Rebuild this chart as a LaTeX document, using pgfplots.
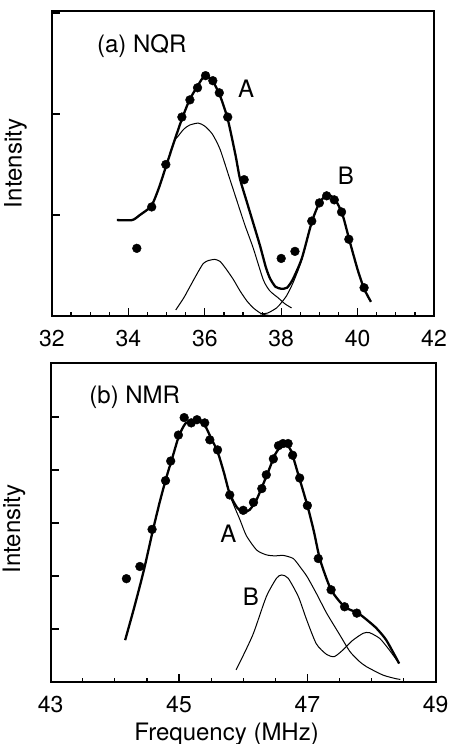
\documentclass[border=0pt]{standalone}
\usepackage{fontspec}
\setmainfont{TeX Gyre Heros}
\usepackage{pgfplots}
\pgfplotsset{compat=1.18}

\pgfplotsset{
  spec/.style={
    scale only axis,
    axis line style={line width=2pt},
    tick pos=left,
    tick align=inside,
    ytick={1,2,3,4,5},
    yticklabels={},
    minor x tick num=3,
    major tick length=8pt,
    minor tick length=4pt,
    every tick/.style={black, line width=1.2pt},
    ymin=0,
    /pgf/number format/assume math mode=true,
    tick label style={font=\fontsize{23}{26}\selectfont},
    xticklabel style={inner sep=0pt, yshift=-14pt},
    label style={font=\fontsize{24}{28}\selectfont},
    ylabel style={inner sep=0pt, anchor=south},
  },
  fit/.style={black, line width=2.3pt, smooth, tension=0.4},
  comp/.style={black, line width=1pt, smooth, tension=0.4},
  pts/.style={only marks, mark=*, mark size=4.4pt, black},
}

\begin{document}
\begin{tikzpicture}
\useasboundingbox (0,0) rectangle (451pt,-744pt);

% (a) NQR
\begin{axis}[spec,
  at={(52pt,-316pt)}, anchor=south west,
  width=382pt, height=305pt,
  xmin=32, xmax=42, ymax=3.02,
  xtick={32,34,36,38,40,42},
  ylabel={Intensity},
  ylabel style={at={(axis description cs:-0.065,0.5)}},
]
\addplot[fit] coordinates {(33.70,0.95)(34.10,0.95)(34.30,1.00)(34.60,1.09)(34.80,1.27)(35.00,1.50)(35.20,1.73)(35.40,1.95)(35.60,2.14)(35.80,2.27)(36.00,2.38)(36.20,2.33)(36.40,2.18)(36.60,1.95)(36.80,1.60)(36.92,1.36)(37.10,1.13)(37.30,0.88)(37.45,0.69)(37.60,0.48)(37.71,0.37)(37.85,0.29)(38.00,0.27)(38.15,0.28)(38.30,0.36)(38.54,0.57)(38.80,0.93)(39.00,1.12)(39.20,1.20)(39.40,1.16)(39.60,1.01)(39.80,0.73)(40.00,0.46)(40.17,0.27)(40.35,0.14)};
\addplot[comp] coordinates {(35.00,1.50)(35.20,1.73)(35.30,1.78)(35.45,1.85)(35.60,1.89)(35.83,1.91)(36.00,1.88)(36.20,1.80)(36.40,1.65)(36.66,1.35)(36.85,1.13)(37.05,0.90)(37.27,0.67)(37.53,0.36)(37.70,0.25)(37.92,0.18)(38.10,0.12)(38.27,0.08)};
\addplot[comp] coordinates {(35.24,0.06)(35.45,0.18)(35.61,0.29)(35.80,0.42)(35.96,0.52)(36.10,0.55)(36.27,0.56)(36.40,0.54)(36.55,0.47)(36.75,0.36)(36.92,0.25)(37.10,0.15)(37.27,0.08)(37.45,0.03)(37.60,0.01)(37.80,0.00)};
\addplot[comp] coordinates {(37.45,0.02)(37.65,0.03)(37.88,0.08)(38.00,0.13)(38.14,0.20)(38.30,0.32)(38.45,0.46)(38.55,0.57)};
\addplot[pts] coordinates {(34.22,0.67)(34.61,1.08)(34.98,1.50)(35.40,1.97)(35.61,2.14)(35.81,2.26)(36.02,2.38)(36.21,2.33)(36.38,2.21)(36.60,1.97)(37.03,1.35)(38.00,0.57)(38.36,0.64)(38.80,0.94)(39.00,1.12)(39.19,1.19)(39.39,1.15)(39.58,1.03)(39.77,0.76)(40.17,0.28)};
\node[font=\fontsize{24}{28}\selectfont] at (axis cs:34.35,2.67) {(a) NQR};
\node[font=\fontsize{24}{28}\selectfont] at (axis cs:37.08,2.25) {A};
\node[font=\fontsize{24}{28}\selectfont] at (axis cs:39.69,1.39) {B};
\end{axis}

% (b) NMR
\begin{axis}[spec,
  at={(50.7pt,-682pt)}, anchor=south west,
  width=385pt, height=319pt,
  xmin=43, xmax=49, ymax=6.02,
  xtick={43,45,47,49},
  ylabel={Intensity},
  ylabel style={at={(axis description cs:-0.065,0.48)}},
  xlabel={Frequency (MHz)},
  xlabel style={at={(axis description cs:0.457,0)}, anchor=base, yshift=-58pt},
]
\addplot[fit] coordinates {(44.16,0.79)(44.30,1.40)(44.45,2.10)(44.59,2.85)(44.70,3.40)(44.80,3.85)(44.90,4.25)(45.00,4.65)(45.10,4.88)(45.20,4.93)(45.30,4.94)(45.40,4.85)(45.50,4.60)(45.60,4.35)(45.70,3.95)(45.79,3.55)(45.90,3.30)(46.00,3.20)(46.10,3.25)(46.20,3.42)(46.30,3.70)(46.40,4.00)(46.50,4.30)(46.60,4.47)(46.67,4.50)(46.75,4.35)(46.85,3.95)(47.00,3.33)(47.10,2.85)(47.20,2.30)(47.37,1.74)(47.58,1.42)(47.79,1.30)(47.95,1.15)(48.08,1.01)(48.23,0.79)(48.43,0.35)};
\addplot[comp] coordinates {(45.70,3.95)(45.79,3.53)(45.95,3.06)(46.05,2.76)(46.21,2.49)(46.36,2.40)(46.50,2.38)(46.62,2.39)(46.78,2.33)(46.90,2.15)(47.00,1.98)(47.15,1.65)(47.30,1.30)(47.51,0.88)(47.66,0.58)(47.80,0.40)(47.92,0.29)(48.18,0.13)(48.39,0.06)(48.45,0.05)};
\addplot[comp] coordinates {(45.89,0.23)(46.00,0.50)(46.16,0.92)(46.36,1.61)(46.52,1.96)(46.60,2.02)(46.70,1.96)(46.86,1.61)(46.99,1.17)(47.14,0.72)(47.30,0.52)(47.42,0.48)(47.55,0.60)(47.70,0.78)(47.87,0.92)(47.97,0.93)(48.13,0.82)(48.28,0.60)(48.43,0.35)};
\addplot[pts] coordinates {(44.18,1.95)(44.39,2.18)(44.58,2.88)(44.79,3.80)(44.87,4.17)(44.99,4.66)(45.08,4.99)(45.19,4.89)(45.28,4.95)(45.40,4.89)(45.48,4.57)(45.60,4.38)(45.79,3.53)(46.00,3.24)(46.16,3.39)(46.29,3.65)(46.36,3.91)(46.47,4.21)(46.55,4.46)(46.62,4.50)(46.70,4.50)(46.77,4.28)(46.88,3.85)(47.00,3.33)(47.17,2.33)(47.37,1.74)(47.58,1.42)(47.77,1.30)};
\node[font=\fontsize{24}{28}\selectfont] at (axis cs:44.31,5.37) {(b) NMR};
\node[font=\fontsize{24}{28}\selectfont] at (axis cs:45.77,2.79) {A};
\node[font=\fontsize{24}{28}\selectfont] at (axis cs:46.12,1.61) {B};
\end{axis}
\end{tikzpicture}
\end{document}
